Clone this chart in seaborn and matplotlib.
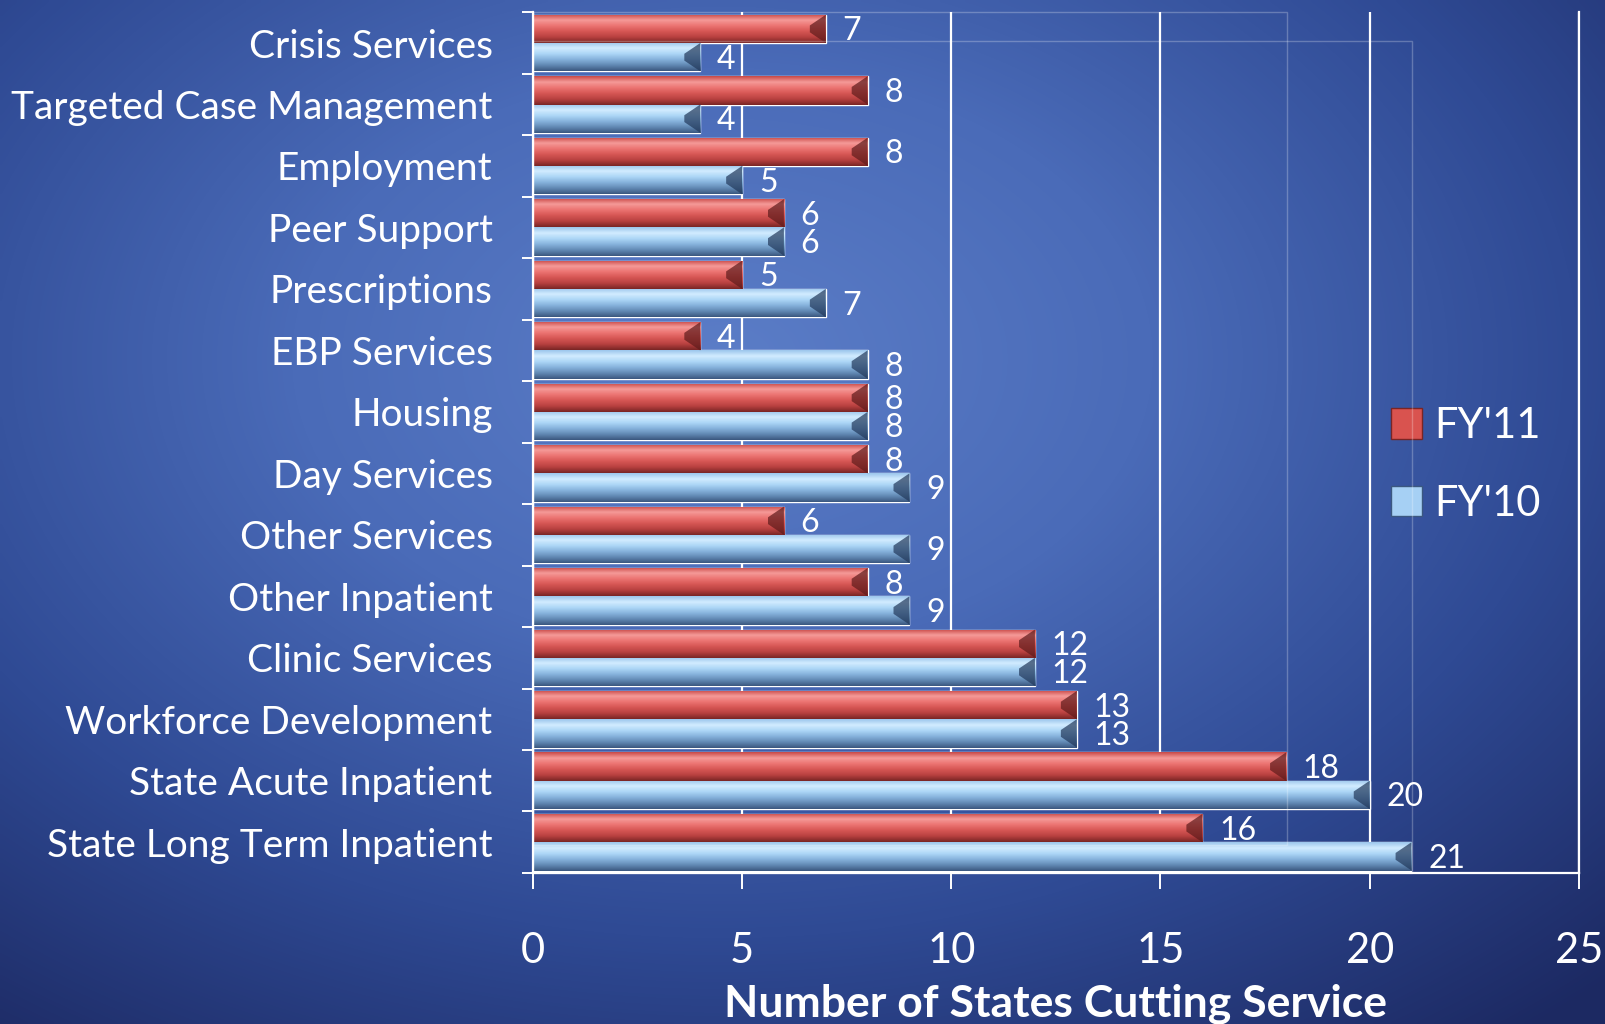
import numpy as np
import pandas as pd
import seaborn as sns
import matplotlib.pyplot as plt
from matplotlib.colors import LinearSegmentedColormap
from matplotlib.patches import Patch, Polygon, Rectangle

categories = ["Crisis Services", "Targeted Case Management", "Employment", "Peer Support",
              "Prescriptions", "EBP Services", "Housing", "Day Services", "Other Services",
              "Other Inpatient", "Clinic Services", "Workforce Development",
              "State Acute Inpatient", "State Long Term Inpatient"]
fy11 = [7, 8, 8, 6, 5, 4, 8, 8, 6, 8, 12, 13, 18, 16]
fy10 = [4, 4, 5, 6, 7, 8, 8, 9, 9, 9, 12, 13, 20, 21]
series = ["FY'11", "FY'10"]
x_ticks = [0, 5, 10, 15, 20, 25]

df = pd.DataFrame({
    "Service": categories * 2,
    "Year": [series[0]] * len(categories) + [series[1]] * len(categories),
    "States": fy11 + fy10,
})

sns.set_style("white")
plt.rcParams['font.family'] = ['Lato', 'DejaVu Sans']

fig = plt.figure(figsize=(16.05, 10.24), dpi=100)

# fond en dégradé bleu
bg = fig.add_axes([0, 0, 1, 1], zorder=-10)
yy, xx = np.mgrid[0:1:256j, 0:1:400j]
d = np.sqrt(((xx - 0.45) / 0.8) ** 2 + ((yy - 0.35) / 0.85) ** 2)
bg_cmap = LinearSegmentedColormap.from_list("bg", ["#5b7dc7", "#4a6bb8", "#2f4a94", "#1c2962"])
bg.imshow(np.clip(d, 0, 1), cmap=bg_cmap, aspect='auto', extent=(0, 1, 0, 1),
          origin='upper', vmin=0, vmax=1, interpolation='bilinear')
bg.axis('off')

ax = fig.add_axes([0.332, 0.1475, 0.6517, 0.8405])
ax.patch.set_alpha(0)
sns.barplot(data=df, x="States", y="Service", hue="Year", hue_order=series, order=categories,
            orient='h', width=0.92, palette=["#d9534f", "#a6d0f4"], saturation=1,
            legend=False, ax=ax)

# effet biseauté des barres
red_cmap = LinearSegmentedColormap.from_list("r", ["#c94a48", "#f59a98", "#ec7472", "#d65654", "#b84140", "#7a2525"])
blue_cmap = LinearSegmentedColormap.from_list("b", ["#9cc6ec", "#d2ecff", "#acd6f6", "#86b2dc", "#6289b4", "#3b5880"])
grad = np.linspace(0, 1, 64).reshape(-1, 1)
for cont, cmap, cap in zip(ax.containers, [red_cmap, blue_cmap], ["#5e1b1b", "#22385a"]):
    for bar in cont:
        x0, y0 = bar.get_x(), bar.get_y()
        bw, bh = bar.get_width(), bar.get_height()
        im = ax.imshow(grad, cmap=cmap, aspect='auto', extent=(x0, x0 + bw, y0 + bh, y0),
                       origin='upper', interpolation='bilinear', zorder=2.5)
        im.set_clip_path(bar)
        ax.add_patch(Polygon([(x0 + bw - 0.38, y0 + 0.38 * bh), (x0 + bw, y0), (x0 + bw, y0 + bh),
                              (x0 + bw - 0.38, y0 + 0.62 * bh)], closed=True,
                             facecolor=cap, edgecolor='none', alpha=0.7, zorder=2.6))

ax.set_xlim(0, 25)
ax.set_ylim(len(categories) - 0.5, -0.5)

for cont, vals in zip(ax.containers, [fy11, fy10]):
    for bar, v in zip(cont, vals):
        ax.text(v + 0.4, bar.get_y() + bar.get_height() / 2 + 0.04, str(v), color='white',
                fontsize=23, va='center', ha='left', zorder=4)

ax.grid(axis='x', color='white', lw=1.6)
ax.set_axisbelow(True)
for side in ['left', 'bottom', 'right']:
    ax.spines[side].set_color('white')
    ax.spines[side].set_linewidth(1.6)
ax.spines['top'].set_visible(False)

ax.set_xticks(x_ticks)
ax.set_yticks(range(len(categories)))
ax.set_yticklabels(categories)
ax.set_yticks(np.arange(-0.5, len(categories)), minor=True)
ax.tick_params(axis='y', which='major', length=0, pad=29, labelsize=28, labelcolor='white')
ax.tick_params(axis='y', which='minor', length=8, width=1.4, color='white', left=True)
ax.tick_params(axis='x', which='major', length=11.5, width=1.4, color='white', bottom=True,
               labelsize=30, labelcolor='white', pad=31)
ax.set_ylabel("")
ax.set_xlabel("Number of States Cutting Service", fontsize=32, fontweight='bold',
              color='white', labelpad=10)

handles = [Patch(facecolor="#d9534f", edgecolor="#7a2525"),
           Patch(facecolor="#a6d0f4", edgecolor="#3b5880")]
ax.legend(handles, series, loc='center left', bbox_to_anchor=(0.843, 0.546),
          bbox_transform=fig.transFigure, frameon=False, fontsize=30, labelcolor='white',
          handlelength=0.75, handleheight=0.75, handletextpad=0.3, labelspacing=0.95)

# contours pâles du mur 3D
fig.add_artist(Rectangle((533 / 1605, 1 - 845 / 1024), (1287 - 533) / 1605, (845 - 12) / 1024,
                         transform=fig.transFigure, fill=False, edgecolor='white', lw=1, alpha=0.25))
fig.add_artist(Rectangle((533 / 1605, 1 - 873 / 1024), (1412 - 533) / 1605, (873 - 41) / 1024,
                         transform=fig.transFigure, fill=False, edgecolor='white', lw=1, alpha=0.25))

fig.savefig("out.png", dpi=100)
